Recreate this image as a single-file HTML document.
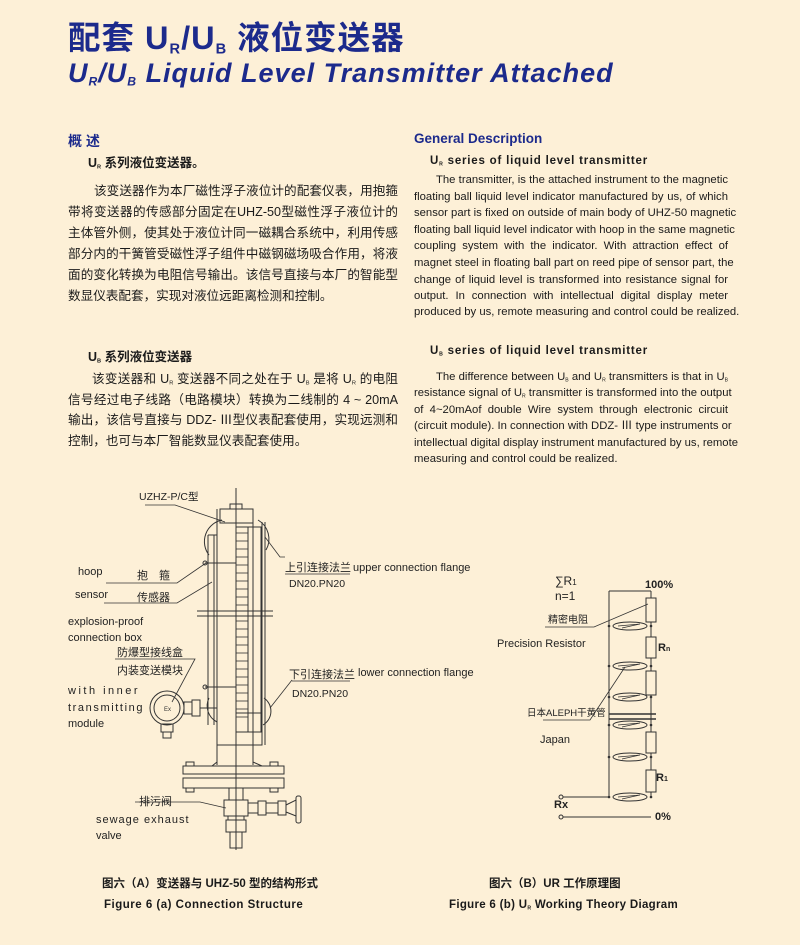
<!DOCTYPE html>
<html><head><meta charset="utf-8"><style>
body{margin:0;width:800px;height:945px;background:#fdf0d7;position:relative;overflow:hidden;font-family:"Liberation Sans","Noto Sans CJK SC",sans-serif;color:#1a1a1a}
.a{position:absolute;white-space:nowrap}
.t1{left:68px;top:12px;font-size:32.5px;font-weight:bold;color:#1c2a8c;letter-spacing:1px}
.t2{left:68px;top:58px;font-size:27px;font-weight:bold;font-style:italic;color:#1c2a8c;letter-spacing:1px}
sub{font-size:45%;vertical-align:-0.3em}
.l{position:absolute;left:68px;width:330px;font-size:12.6px;text-align:justify;text-align-last:justify;white-space:nowrap;line-height:16px}
.r{position:absolute;left:414px;width:314px;font-size:11.3px;text-align:justify;text-align-last:justify;white-space:nowrap;line-height:14px}
.nl{text-align-last:left}
.h{position:absolute;font-weight:bold;white-space:nowrap}
svg{position:absolute;left:0;top:0}
svg text{font-family:"Liberation Sans","Noto Sans CJK SC",sans-serif}
</style></head><body>
<div class="a t1">配套 U<sub>R</sub>/U<sub>B</sub> 液位变送器</div>
<div class="a t2">U<sub>R</sub>/U<sub>B</sub> Liquid Level Transmitter Attached</div>

<div class="h" style="left:68px;top:131px;font-size:14px;color:#1c2a8c">概 述</div>
<div class="h" style="left:88px;top:152px;font-size:12.5px">U<sub>R</sub> 系列液位变送器。</div>
<div class="l" style="top:183px;padding-left:26px;width:304px">该变送器作为本厂磁性浮子液位计的配套仪表，用抱箍</div>
<div class="l" style="top:204px">带将变送器的传感部分固定在UHZ-50型磁性浮子液位计的</div>
<div class="l" style="top:225px">主体管外侧，使其处于液位计同一磁耦合系统中，利用传感</div>
<div class="l" style="top:246px">部分内的干簧管受磁性浮子组件中磁钢磁场吸合作用，将液</div>
<div class="l" style="top:267px">面的变化转换为电阻信号输出。该信号直接与本厂的智能型</div>
<div class="l nl" style="top:288px">数显仪表配套，实现对液位远距离检测和控制。</div>

<div class="h" style="left:414px;top:131px;font-size:13.5px;color:#1c2a8c">General Description</div>
<div class="h" style="left:430px;top:155px;font-size:11.5px;letter-spacing:0.8px">U<sub>R</sub> series of liquid level transmitter</div>
<div class="r" style="top:173px;padding-left:22px;width:292px">The transmitter, is the attached instrument to the magnetic</div>
<div class="r" style="top:190px">floating ball liquid level indicator manufactured by us, of which</div>
<div class="r" style="top:206px">sensor part is fixed on outside of main body of UHZ-50 magnetic</div>
<div class="r" style="top:223px">floating ball liquid level indicator with hoop in the same magnetic</div>
<div class="r" style="top:239px">coupling system with the indicator. With attraction effect of</div>
<div class="r" style="top:256px">magnet steel in floating ball part on reed pipe of sensor part, the</div>
<div class="r" style="top:273px">change of liquid level is transformed into resistance signal for</div>
<div class="r" style="top:289px">output. In connection with intellectual digital display meter</div>
<div class="r" style="top:305px">produced by us, remote measuring and control could be realized.</div>

<div class="h" style="left:88px;top:346px;font-size:12.5px">U<sub>B</sub> 系列液位变送器</div>
<div class="l" style="top:371px;padding-left:24px;width:306px">该变送器和 U<sub>R</sub> 变送器不同之处在于 U<sub>B</sub> 是将 U<sub>R</sub> 的电阻</div>
<div class="l" style="top:392px">信号经过电子线路（电路模块）转换为二线制的 4 ~ 20mA</div>
<div class="l" style="top:412px">输出，该信号直接与 DDZ- Ⅲ型仪表配套使用，实现远测和</div>
<div class="l nl" style="top:433px">控制，也可与本厂智能数显仪表配套使用。</div>

<div class="h" style="left:430px;top:345px;font-size:11.5px;letter-spacing:0.8px">U<sub>B</sub> series of liquid level transmitter</div>
<div class="r" style="top:370px;padding-left:22px;width:292px">The difference between U<sub>B</sub> and U<sub>R</sub> transmitters is that in U<sub>B</sub></div>
<div class="r" style="top:386px">resistance signal of U<sub>R</sub> transmitter is transformed into the output</div>
<div class="r" style="top:403px">of 4~20mAof double Wire system through electronic circuit</div>
<div class="r" style="top:419px">(circuit module). In connection with DDZ- Ⅲ type instruments or</div>
<div class="r" style="top:436px">intellectual digital display instrument manufactured by us, remote</div>
<div class="r nl" style="top:452px">measuring and control could be realized.</div>

<svg width="800" height="945" viewBox="0 0 800 945" fill="none" stroke="#333" stroke-width="1">
<line x1="236" y1="488" x2="236" y2="850"/>
<rect x="220" y="509" width="33" height="14"/>
<rect x="230" y="504" width="12" height="5"/>
<line x1="217" y1="509" x2="217" y2="765"/>
<line x1="253" y1="509" x2="253" y2="765"/>
<rect x="236" y="527" width="12" height="205"/>
<g stroke-width="0.8">
<line x1="236" y1="533" x2="248" y2="533"/><line x1="236" y1="541" x2="248" y2="541"/><line x1="236" y1="549" x2="248" y2="549"/><line x1="236" y1="557" x2="248" y2="557"/><line x1="236" y1="565" x2="248" y2="565"/><line x1="236" y1="573" x2="248" y2="573"/><line x1="236" y1="581" x2="248" y2="581"/><line x1="236" y1="589" x2="248" y2="589"/><line x1="236" y1="597" x2="248" y2="597"/><line x1="236" y1="605" x2="248" y2="605"/><line x1="236" y1="621" x2="248" y2="621"/><line x1="236" y1="629" x2="248" y2="629"/><line x1="236" y1="637" x2="248" y2="637"/><line x1="236" y1="645" x2="248" y2="645"/><line x1="236" y1="653" x2="248" y2="653"/><line x1="236" y1="661" x2="248" y2="661"/><line x1="236" y1="669" x2="248" y2="669"/><line x1="236" y1="677" x2="248" y2="677"/><line x1="236" y1="685" x2="248" y2="685"/><line x1="236" y1="693" x2="248" y2="693"/><line x1="236" y1="701" x2="248" y2="701"/><line x1="236" y1="709" x2="248" y2="709"/><line x1="236" y1="717" x2="248" y2="717"/>
</g>
<rect x="248" y="527" width="13" height="205"/>
<line x1="262" y1="522" x2="262" y2="745"/><line x1="265" y1="522" x2="265" y2="745"/>
<rect x="236" y="713" width="26" height="32"/>
<line x1="217" y1="745" x2="262" y2="745"/>
<line x1="208" y1="535" x2="208" y2="725"/><line x1="214" y1="535" x2="214" y2="725"/>
<line x1="208" y1="535" x2="217" y2="535"/>
<line x1="205" y1="563" x2="236" y2="563"/><circle cx="205" cy="563" r="2"/>
<line x1="205" y1="687" x2="236" y2="687"/><circle cx="205" cy="687" r="2"/>
<line x1="197" y1="611" x2="273" y2="611"/><line x1="197" y1="616" x2="273" y2="616"/>
<path d="M222 520 A22 22 0 0 0 209 555"/><path d="M258 520 A22 22 0 0 1 266 550"/>
<path d="M209 698 A18 18 0 0 0 217 722"/><path d="M264 698 A16 16 0 0 1 263 725"/>
<path d="M217 745 L217 762 L212 766 L262 766 L253 762 L253 745"/>
<rect x="183" y="766" width="101" height="8"/><rect x="183" y="778" width="101" height="10"/>
<line x1="187" y1="774" x2="280" y2="774"/><line x1="187" y1="778" x2="280" y2="778"/>
<rect x="186" y="762" width="8" height="4"/><rect x="270" y="762" width="8" height="4"/>
<rect x="186" y="788" width="8" height="4"/><rect x="270" y="788" width="8" height="4"/>
<rect x="229" y="788" width="14" height="12"/>
<rect x="224" y="800" width="24" height="16"/>
<rect x="248" y="803" width="10" height="10"/><rect x="258" y="801" width="8" height="14"/>
<rect x="266" y="803" width="12" height="10"/><rect x="278" y="801" width="8" height="14"/>
<path d="M286 805 L296 800 L296 816 L286 812Z"/>
<rect x="296" y="796" width="5" height="27" rx="2"/>
<rect x="228" y="816" width="16" height="4"/><rect x="226" y="820" width="20" height="12"/>
<rect x="230" y="832" width="12" height="16"/>
<circle cx="167" cy="708" r="17"/><circle cx="167" cy="708" r="13"/>
<rect x="184" y="702" width="8" height="12"/><rect x="192" y="700" width="8" height="16"/>
<line x1="200" y1="708" x2="217" y2="708"/>
<rect x="161" y="724" width="12" height="8"/><rect x="163" y="732" width="8" height="6"/>
<text x="164" y="711" font-size="6" fill="#333" stroke="none">Ex</text>
<g stroke-width="0.8">
<path d="M145 505 L175 505 L225 522"/>
<path d="M135 583 L177 583 L206 563"/>
<path d="M135 603 L177 603 L212 582"/>
<path d="M115 659 L195 659 L172 702"/>
<path d="M285 557 L280 557 L265 537"/>
<line x1="285" y1="574" x2="350" y2="574"/>
<path d="M292 680 L270 708"/>
<line x1="292" y1="681" x2="350" y2="681"/>
<path d="M135 802 L200 802 L226 808"/>
<line x1="106" y1="583" x2="135" y2="583"/>
<line x1="104" y1="603" x2="135" y2="603"/>
</g>
<g fill="#222" stroke="none" font-size="11">
<text x="139" y="500" font-family="Liberation Serif,Noto Serif CJK SC,serif" font-size="10.5">UZHZ-P/C型</text>
<text x="78" y="575">hoop</text>
<text x="137" y="579">抱　箍</text>
<text x="75" y="598">sensor</text>
<text x="137" y="601">传感器</text>
<text x="68" y="625">explosion-proof</text>
<text x="68" y="641">connection box</text>
<text x="117" y="656">防爆型接线盒</text>
<text x="117" y="674">内装变送模块</text>
<text x="68" y="694" letter-spacing="2.5">with  inner</text>
<text x="68" y="711" letter-spacing="1.6">transmitting</text>
<text x="68" y="727">module</text>
<text x="285" y="571">上引连接法兰</text>
<text x="353" y="571">upper connection flange</text>
<text x="289" y="587" font-family="Liberation Serif,serif" font-size="10.5">DN20.PN20</text>
<text x="289" y="678">下引连接法兰</text>
<text x="358" y="676">lower connection flange</text>
<text x="292" y="697" font-family="Liberation Serif,serif" font-size="10.5">DN20.PN20</text>
<text x="139" y="805">排污阀</text>
<text x="96" y="823" letter-spacing="1">sewage exhaust</text>
<text x="96" y="839">valve</text>
</g>
<line x1="609" y1="591" x2="651" y2="591"/>
<line x1="609" y1="591" x2="609" y2="797"/>
<line x1="651" y1="591" x2="651" y2="797"/>
<g fill="#fdf0d7">
<rect x="646" y="598" width="10" height="24"/><rect x="646" y="637" width="10" height="21"/><rect x="646" y="671" width="10" height="24"/><rect x="646" y="732" width="10" height="21"/><rect x="646" y="770" width="10" height="22"/>
<ellipse cx="630" cy="626" rx="17" ry="4"/><ellipse cx="630" cy="666" rx="17" ry="4"/><ellipse cx="630" cy="697" rx="17" ry="4"/><ellipse cx="630" cy="725" rx="17" ry="4"/><ellipse cx="630" cy="757" rx="17" ry="4"/><ellipse cx="630" cy="797" rx="17" ry="4"/>
</g>
<g stroke-width="0.7">
<path d="M618 626 L640 624 L622 628"/><path d="M618 666 L640 664 L622 668"/><path d="M618 697 L640 695 L622 699"/><path d="M618 725 L640 723 L622 727"/><path d="M618 757 L640 755 L622 759"/><path d="M618 797 L640 795 L622 799"/>
</g>
<line x1="609" y1="714" x2="656" y2="714" stroke-width="1.5"/><line x1="609" y1="719" x2="656" y2="719" stroke-width="1.5"/>
<g fill="#333" stroke="none">
<circle cx="609" cy="626" r="1.3"/><circle cx="651" cy="626" r="1.3"/><circle cx="609" cy="666" r="1.3"/><circle cx="651" cy="666" r="1.3"/><circle cx="609" cy="697" r="1.3"/><circle cx="651" cy="697" r="1.3"/><circle cx="609" cy="725" r="1.3"/><circle cx="651" cy="725" r="1.3"/><circle cx="609" cy="757" r="1.3"/><circle cx="651" cy="757" r="1.3"/><circle cx="609" cy="797" r="1.3"/><circle cx="651" cy="797" r="1.3"/>
</g>
<line x1="563" y1="797" x2="609" y2="797"/><line x1="563" y1="817" x2="651" y2="817"/>
<circle cx="561" cy="797" r="2"/><circle cx="561" cy="817" r="2"/>
<g stroke-width="0.8">
<path d="M545 627 L594 627 L648 604"/>
<path d="M543 720 L590 720 L625 667"/>
</g>
<g fill="#222" stroke="none" font-size="11">
<text x="555" y="585" font-size="12">∑R<tspan font-size="8">1</tspan></text>
<text x="555" y="600" font-size="12">n=1</text>
<text x="645" y="588" font-weight="bold" font-size="11">100%</text>
<text x="548" y="623" font-size="10">精密电阻</text>
<text x="497" y="647">Precision Resistor</text>
<text x="658" y="651" font-weight="bold" font-size="11">R<tspan font-size="7">n</tspan></text>
<text x="527" y="716" font-size="9.5">日本ALEPH干黄管</text>
<text x="540" y="743">Japan</text>
<text x="656" y="781" font-weight="bold" font-size="11">R<tspan font-size="7">1</tspan></text>
<text x="554" y="808" font-weight="bold">Rx</text>
<text x="655" y="820" font-weight="bold">0%</text>
</g>
</svg>

<div class="h" style="left:102px;top:875px;font-size:11.5px">图六（A）变送器与 UHZ-50 型的结构形式</div>
<div class="h" style="left:104px;top:899px;font-size:11.5px;letter-spacing:0.5px">Figure 6 (a) Connection Structure</div>
<div class="h" style="left:489px;top:875px;font-size:11.5px">图六（B）UR 工作原理图</div>
<div class="h" style="left:449px;top:899px;font-size:11.5px;letter-spacing:0.3px">Figure 6 (b) U<sub>R</sub> Working Theory Diagram</div>
</body></html>
